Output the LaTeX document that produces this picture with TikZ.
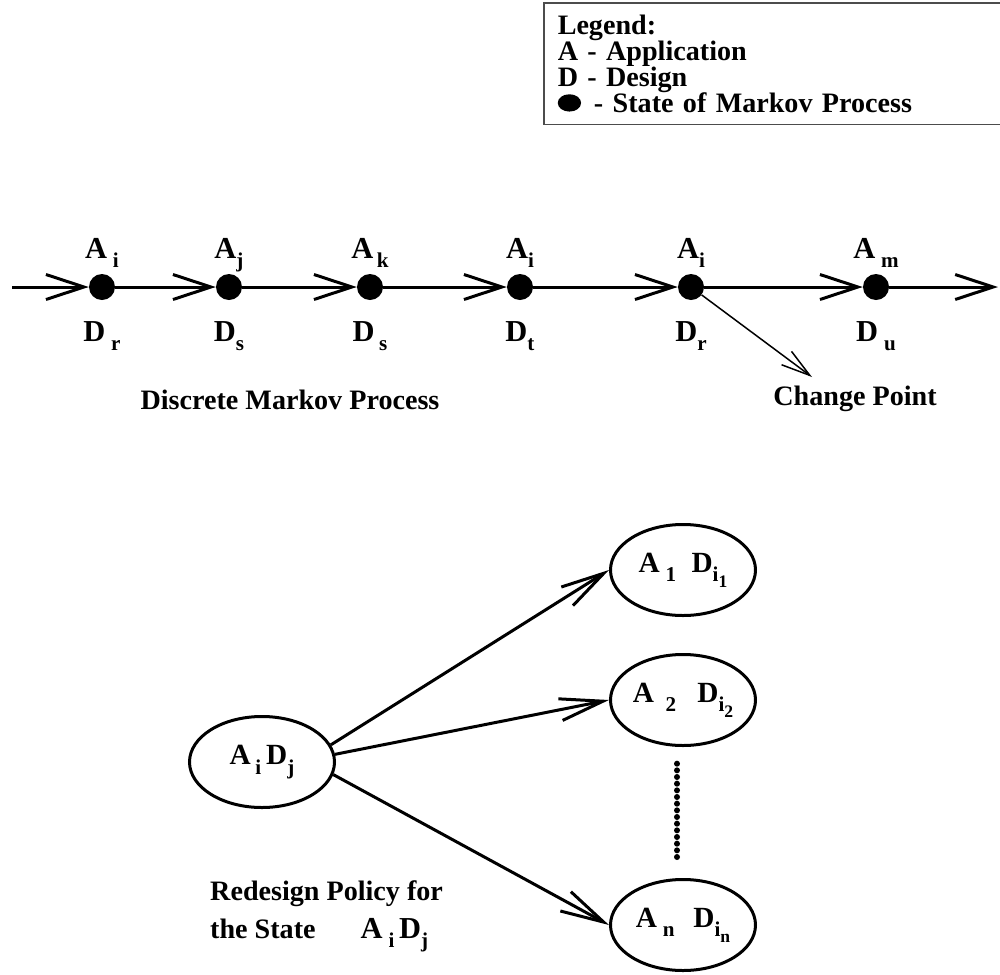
\documentclass[tikz,border=0pt]{standalone}
\usepackage{fontspec}
\setmainfont{Liberation Serif}
\usetikzlibrary{arrows.meta, positioning, shapes.geometric}

% lowered index (optional gap in front) and an index with its own index
\newcommand{\idx}[2][0pt]{\hspace{#1}\raisebox{-8pt}{\fontsize{18}{18}\selectfont #2}}
\newcommand{\subidx}[2]{\raisebox{-8pt}{\fontsize{18}{18}\selectfont #1\raisebox{-5pt}{\fontsize{15}{15}\selectfont #2}}}

\begin{document}
\begin{tikzpicture}[
    x=0.03cm, y=-0.03cm,
    every node/.style={font=\fontsize{24}{22.2}\selectfont\bfseries, inner sep=0pt},
    state/.style={circle, fill=black, minimum size=0.78cm},
    lab/.style={font=\fontsize{26}{26}\selectfont\bfseries, text height=0.6cm, text depth=0.15cm},
    flow/.style={line width=0.09cm, -{Straight Barb[length=1.14cm, width=0.75cm]}},
    pair/.style={ellipse, draw, line width=0.09cm, minimum width=4.35cm, minimum height=2.73cm,
      font=\fontsize{25}{25}\selectfont\bfseries},
    branch/.style={line width=0.09cm, -{Straight Barb[length=1.3cm, width=0.66cm]}},
    pointer/.style={line width=0.045cm, -{Straight Barb[length=0.87cm, width=0.5cm]}},
    beads/.style={line width=0.18cm, line cap=round, dash pattern=on 0pt off 0.2cm}
  ]
  \useasboundingbox (0,0) rectangle (1000,975);

  % legend
  \node [
    draw=black!70,
    line width=0.045cm,
    inner xsep=0.42cm,
    inner ysep=0.36cm,
    text width=13.2cm,
    align=left,
    anchor=north west
    ] (legend) at (543,2) {
      Legend:\\
      A - Application\\
      D - Design\\
      \tikz[baseline=-8pt]\fill (0,0) ellipse (0.35cm and 0.26cm);\hspace{3pt} - State of Markov Process
    };

  % the chain of states
  \coordinate (in) at (12,287);
  \node[state] (s1) at (102,287) {};
  \node[state] (s2) at (229,287) {};
  \node[state] (s3) at (370,287) {};
  \node[state] (s4) at (520,287) {};
  \node[state] (s5) at (691,287) {};
  \node[state] (s6) at (876,287) {};
  \coordinate (out) at (998,287);

  \draw[flow] (in) -- (s1);
  \draw[flow] (s1) -- (s2);
  \draw[flow] (s2) -- (s3);
  \draw[flow] (s3) -- (s4);
  \draw[flow] (s4) -- (s5);
  \draw[flow] (s5) -- (s6);
  \draw[flow] (s6) -- (out);

  \node[lab, above=0.3cm of s1] (a1) {A\idx[5pt]{i}};
  \node[lab, above=0.3cm of s2] (a2) {A\idx{j}};
  \node[lab, above=0.3cm of s3] (a3) {A\idx[3pt]{k}};
  \node[lab, above=0.3cm of s4] (a4) {A\idx{i}};
  \node[lab, above=0.3cm of s5] (a5) {A\idx{i}};
  \node[lab, above=0.3cm of s6] (a6) {A\idx[5pt]{m}};

  \node[lab, below=0.62cm of s1] (d1) {D\idx[5pt]{r}};
  \node[lab, below=0.62cm of s2] (d2) {D\idx{s}};
  \node[lab, below=0.62cm of s3] (d3) {D\idx[4pt]{s}};
  \node[lab, below=0.62cm of s4] (d4) {D\idx{t}};
  \node[lab, below=0.62cm of s5] (d5) {D\idx{r}};
  \node[lab, below=0.62cm of s6] (d6) {D\idx[5pt]{u}};

  \node (chain) at (290,400) {Discrete Markov Process};

  \coordinate (cptip) at (812,377);
  \draw[pointer] (s5) -- (cptip);
  \node (cp) at (855,399) {Change Point};

  % redesign policy
  \node[pair] (src) at (262,762) {A\idx[4pt]{i}\,D\idx{j}};
  \node[pair] (e1) at (683,570) {A\idx[5pt]{1}\hspace{13pt}D\subidx{i}{1}};
  \node[pair] (e2) at (683,700) {A\idx[10pt]{2}\hspace{18pt}D\subidx{i}{2}};
  \node[pair] (en) at (683,925) {A\idx[5pt]{n}\hspace{16pt}D\subidx{i}{n}};

  \draw[branch] (src.14) -- (e1.west);
  \draw[branch] (src.6) -- (e2.west);
  \draw[branch] (src.-10) -- (en.west);

  \draw[beads, shorten <=0.5cm, shorten >=0.48cm] ([xshift=-0.18cm]e2.south) -- ([xshift=-0.18cm]en.north);

  \node[anchor=base west] (policy) at (210,900) {Redesign Policy for};
  \node[anchor=base west] (policyb) at (210,938)
    {the State\hspace{1.35cm}\fontsize{26}{26}\selectfont A\idx[5pt]{i}\hspace{4pt}D\idx{j}};
\end{tikzpicture}
\end{document}
